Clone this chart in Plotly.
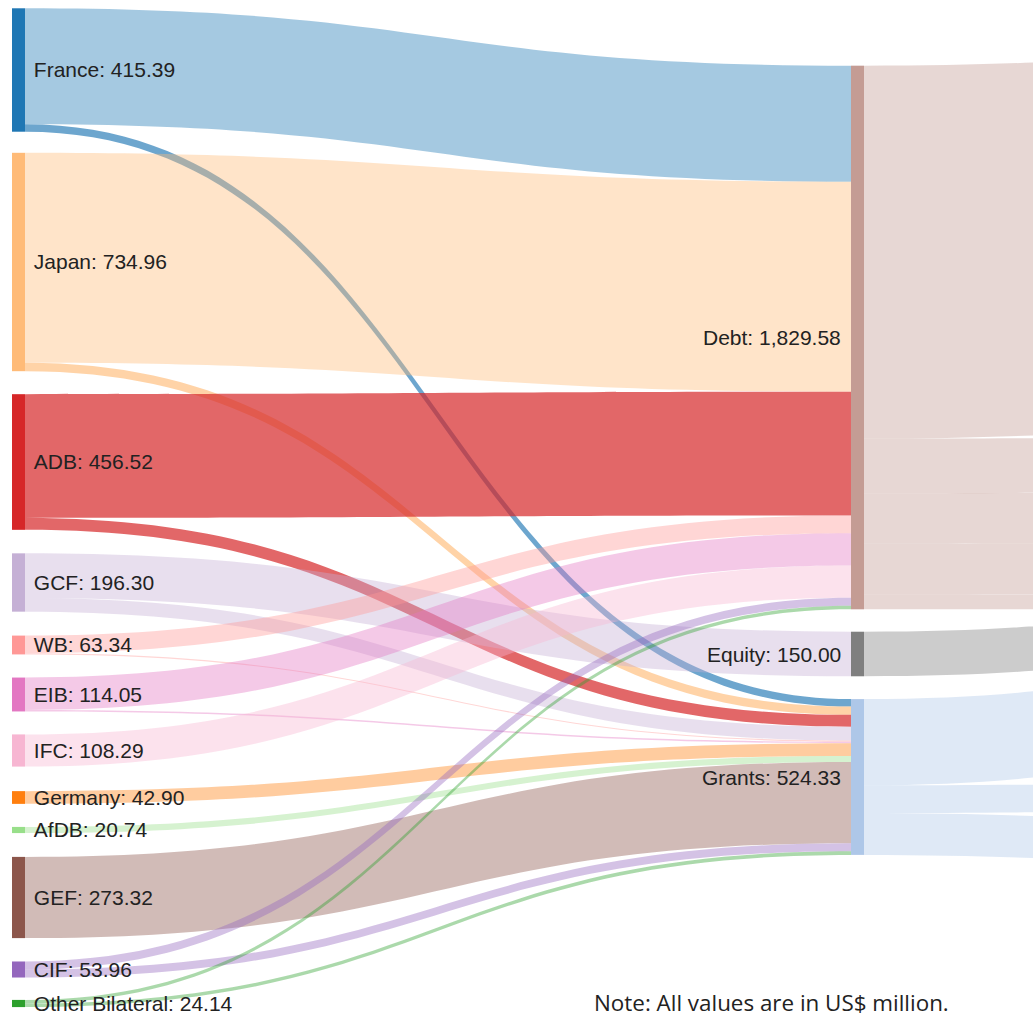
# =========================================
# Climate finance flows - Sankey
# =========================================

import plotly.graph_objects as go


# =========================================
# Data
# =========================================

sources = [
    "France", "Japan", "ADB", "GCF", "WB", "EIB",
    "IFC", "Germany", "AfDB", "GEF", "CIF", "Other Bilateral"
]

source_totals = [
    415.39, 734.96, 456.52, 196.30, 63.34, 114.05,
    108.29, 42.90, 20.74, 273.32, 53.96, 24.14
]

instruments = ["Debt", "Equity", "Grants"]

instrument_totals = [1829.58, 150.00, 524.33]

# flows source -> instrument
to_debt = [390.39, 706.96, 416.52, 0, 59.34, 109.08, 108.29, 0, 0, 0, 27.00, 12.00]
to_equity = [0, 0, 0, 150.00, 0, 0, 0, 0, 0, 0, 0, 0]
to_grants = [25.00, 28.00, 40.00, 46.30, 4.00, 4.97, 0, 42.90, 20.74, 273.32, 26.96, 12.14]

# flows instrument -> next stage (that stage is cut off at the right edge)
debt_out = [1255.00, 184.00, 170.00, 170.00, 50.58]
equity_out = [150.00]
grants_out = [290.00, 93.00, 141.33]


# =========================================
# Colours
# =========================================

source_colors = [
    "#1f77b4", "#ffbb78", "#d62728", "#c5b0d5", "#ff9896", "#e377c2",
    "#f7b6d2", "#ff7f0e", "#98df8a", "#8c564b", "#9467bd", "#2ca02c"
]

instrument_colors = ["#c49c94", "#7f7f7f", "#aec7e8"]


def rgba(hex_color, alpha):
    h = hex_color.lstrip("#")
    r, g, b = int(h[0:2], 16), int(h[2:4], 16), int(h[4:6], 16)
    return f"rgba({r},{g},{b},{alpha})"


# =========================================
# Nodes
# =========================================

W, H = 1033, 1019

LABEL_FONT = "Liberation Sans, Arial, sans-serif"

# left labels sit a little further from the bar than plotly's default
labels = [f"\u00a0{s}: {v:,.2f}" for s, v in zip(sources, source_totals)]

# middle labels are drawn as annotations (left of the bar)
labels += [""] * len(instruments)

n_right = len(debt_out) + len(equity_out) + len(grants_out)
labels += [""] * n_right

node_colors = source_colors + instrument_colors + ["#bbbbbb"] * n_right

# node centres in pixels
left_y = [70, 262, 462, 582.5, 645, 694.5, 750.5, 797.5, 830, 897.5, 969.5, 1003.5]
mid_y = [337.5, 654, 777]
right_y = [206, 460, 515, 565, 600, 575, 630, 790, 880]

left_x, mid_x, right_x = 18.5, 857.5, 1690

node_x = [left_x / W] * len(sources) + [mid_x / W] * len(instruments) + [right_x / W] * n_right
node_y = [y / H for y in left_y + mid_y + right_y]


# =========================================
# Links
# =========================================

link_src, link_tgt, link_val, link_col = [], [], [], []

n_src = len(sources)
debt_i, equity_i, grants_i = n_src, n_src + 1, n_src + 2

for i in range(n_src):

    for tgt, vals in ((debt_i, to_debt), (equity_i, to_equity), (grants_i, to_grants)):

        if vals[i] > 0:

            # ADB and the thin France/Japan strands are drawn stronger
            alpha = 0.4
            if sources[i] == "ADB":
                alpha = 0.7
            elif sources[i] in ("France", "Japan") and tgt == grants_i:
                alpha = 0.65

            link_src.append(i)
            link_tgt.append(tgt)
            link_val.append(vals[i])
            link_col.append(rgba(source_colors[i], alpha))

k = n_src + len(instruments)

for src, outs in ((debt_i, debt_out), (equity_i, equity_out), (grants_i, grants_out)):

    for v in outs:

        link_src.append(src)
        link_tgt.append(k)
        link_val.append(v)
        link_col.append(rgba(instrument_colors[src - n_src], 0.4))
        k += 1


# =========================================
# Figure
# =========================================

fig = go.Figure(

    go.Sankey(

        arrangement="fixed",

        node=dict(
            label=labels,
            color=node_colors,
            x=node_x,
            y=node_y,
            pad=25,
            thickness=13,
            line=dict(width=0)
        ),

        link=dict(
            source=link_src,
            target=link_tgt,
            value=link_val,
            color=link_col
        ),

        textfont=dict(
            family=LABEL_FONT,
            size=21,
            color="#222222",
            shadow="none"
        )

    )

)


# Middle labels (right-aligned against the bars)

for name, total, y in zip(instruments, instrument_totals, mid_y):

    fig.add_annotation(

        text=f"{name}: {total:,.2f}",

        x=(mid_x - 6.5 - 8) / W,
        y=1 - y / H,

        xref="paper",
        yref="paper",

        xanchor="right",
        yanchor="middle",

        showarrow=False,

        font=dict(
            family=LABEL_FONT,
            size=21,
            color="#222222"
        )

    )


# Note

fig.add_annotation(

    text="Note: All values are in US$ million.",

    x=771 / W,
    y=1 - 1002 / H,

    xref="paper",
    yref="paper",

    xanchor="center",
    yanchor="middle",

    showarrow=False,

    font=dict(
        family="Open Sans, sans-serif",
        size=22.4,
        color="#222222"
    )

)


fig.update_layout(

    width=W,
    height=H,

    margin=dict(l=0, r=0, t=0, b=0),

    paper_bgcolor="white",
    plot_bgcolor="white"

)


fig.write_html(
    "out.html",
    config={"displayModeBar": False},
    post_script="document.body.style.margin='0';document.body.style.overflow='hidden';"
)
